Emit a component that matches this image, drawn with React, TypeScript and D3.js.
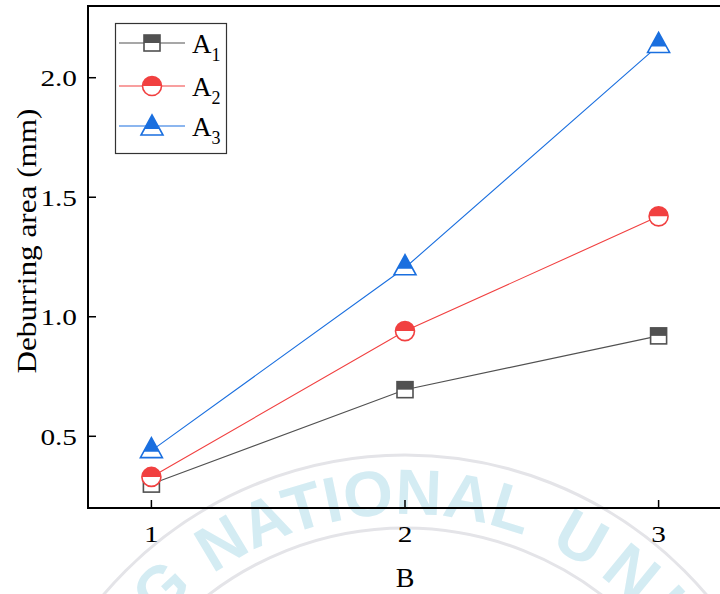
import React from "react";
import * as d3 from "d3";

const categories = [1, 2, 3];
const seriesNames = ["1", "2", "3"];
const seriesA1 = [0.3, 0.695, 0.92];
const seriesA2 = [0.33, 0.94, 1.42];
const seriesA3 = [0.44, 1.205, 2.135];
const yTicks = [0.5, 1.0, 1.5, 2.0];
const xTicks = [1, 2, 3];
const colors = ["#515151", "#F14040", "#1A6FDF"];
const shapes = ["square", "circle", "triangle"];
const wmLetters = ["U", "N", "I", "V"];
const wmWidths = [0.722, 0.722, 0.278, 0.667];

const W = 720;
const H = 594;
const left = 88;
const right = 722;
const top = 6;
const bottom = 508;

const serif = "'Liberation Serif', 'Times New Roman', serif";
const sans = "'Liberation Sans', Arial, sans-serif";
const tickFont = 24;
const stretch = 1.22;

function labelWidth(s: string) {
  let w = 0;
  for (const c of s) w += c === "." ? 0.25 : 0.5;
  return w * tickFont * stretch;
}

function Marker({ shape, color, cx, cy }: { shape: string; color: string; cx: number; cy: number }) {
  if (shape === "square") {
    return (
      <g transform={`translate(${cx},${cy})`}>
        <rect x={-8} y={-8} width={16} height={16} fill="#fff" />
        <rect x={-8} y={-8} width={16} height={8} fill={color} />
        <rect x={-8} y={-8} width={16} height={16} fill="none" stroke={color} strokeWidth={1.6} />
      </g>
    );
  }
  if (shape === "circle") {
    return (
      <g transform={`translate(${cx},${cy})`}>
        <circle r={9.5} fill="#fff" />
        <path d="M -9.5 0 A 9.5 9.5 0 0 1 9.5 0 Z" fill={color} />
        <circle r={9.5} fill="none" stroke={color} strokeWidth={1.6} />
      </g>
    );
  }
  const tri = "M 0 -13 L 11 7 L -11 7 Z";
  return (
    <g transform={`translate(${cx},${cy})`}>
      <path d={tri} fill="#fff" />
      <path d={tri} fill={color} clipPath="url(#triTop)" />
      <path d={tri} fill="none" stroke={color} strokeWidth={1.6} strokeLinejoin="miter" />
    </g>
  );
}

export default function App() {
  const x = d3.scaleLinear().domain([0.75, 3.25]).range([left, right]);
  const y = d3.scaleLinear().domain([0.2, 2.3]).range([bottom, top]);
  const all = [seriesA1, seriesA2, seriesA3];
  const line = d3
    .line<number>()
    .x((_, i) => x(categories[i]))
    .y((d) => y(d));

  // watermark geometry
  const wcx = 405;
  const wcy = 850;
  const rText = 336;
  const arcPath = `M ${wcx - rText} ${wcy} A ${rText} ${rText} 0 0 1 ${wcx + rText} ${wcy}`;
  const wmFont = 66;
  const wmGap = 10;
  const uniOffsets: number[] = [];
  let acc = 676;
  wmWidths.forEach((w) => {
    uniOffsets.push(acc);
    acc += w * wmFont + wmGap;
  });

  const legendRows = [43, 86, 126];

  return (
    <svg width={W} height={H} style={{ position: "absolute", left: 0, top: 0, background: "#fff" }}>
      <defs>
        <clipPath id="triTop" clipPathUnits="userSpaceOnUse">
          <rect x={-20} y={-20} width={40} height={21} />
        </clipPath>
        <path id="wmArc" d={arcPath} />
      </defs>
      <rect x={0} y={0} width={W} height={H} fill="#fff" />

      {/* watermark */}
      <g>
        <circle cx={wcx} cy={wcy} r={395} fill="none" stroke="#e4e4e8" strokeWidth={3} />
        <circle cx={wcx} cy={wcy} r={322} fill="none" stroke="#e4e4e8" strokeWidth={3} />
        <text fontFamily={sans} fontWeight="bold" fontSize={64} fill="#d4ecf3">
          <textPath href="#wmArc" startOffset={300} textAnchor="end">
            G
          </textPath>
        </text>
        <text fontFamily={sans} fontWeight="bold" fontSize={64} fill="#d4ecf3">
          <textPath href="#wmArc" startOffset={486} textAnchor="middle">
            NATIONAL
          </textPath>
        </text>
        {wmLetters.map((c, i) => (
          <text key={`wm${i}`} fontFamily={sans} fontWeight="bold" fontSize={wmFont} fill="#d4ecf3">
            <textPath href="#wmArc" startOffset={uniOffsets[i]} textAnchor="start">
              {c}
            </textPath>
          </text>
        ))}
      </g>

      {/* frame */}
      <line x1={left} x2={left} y1={top} y2={bottom} stroke="#000" strokeWidth={2} />
      <line x1={left - 1} x2={right} y1={bottom} y2={bottom} stroke="#000" strokeWidth={2} />
      <line x1={left - 1} x2={right} y1={top} y2={top} stroke="#000" strokeWidth={2} />

      {/* y ticks */}
      {yTicks.map((t) => {
        const s = t.toFixed(1);
        return (
          <g key={`y${t}`}>
            <line x1={left} x2={left + 8} y1={y(t)} y2={y(t)} stroke="#000" strokeWidth={1.5} />
            <text
              x={77}
              y={y(t)}
              dy="0.35em"
              textAnchor="end"
              textLength={labelWidth(s)}
              lengthAdjust="spacingAndGlyphs"
              fontFamily={serif}
              fontSize={tickFont}
              fill="#000"
            >
              {s}
            </text>
          </g>
        );
      })}

      {/* x ticks */}
      {xTicks.map((t) => {
        const s = String(t);
        return (
          <g key={`x${t}`}>
            <line x1={x(t)} x2={x(t)} y1={bottom} y2={bottom - 8} stroke="#000" strokeWidth={1.5} />
            <text
              x={x(t)}
              y={542}
              textAnchor="middle"
              textLength={labelWidth(s)}
              lengthAdjust="spacingAndGlyphs"
              fontFamily={serif}
              fontSize={tickFont}
              fill="#000"
            >
              {s}
            </text>
          </g>
        );
      })}

      {/* axis titles */}
      <text x={405} y={587} textAnchor="middle" fontFamily={serif} fontSize={28} fill="#000">
        B
      </text>
      <text
        transform={`translate(36,241) rotate(-90)`}
        textAnchor="middle"
        textLength={265}
        lengthAdjust="spacingAndGlyphs"
        fontFamily={serif}
        fontSize={28}
        fill="#000"
      >
        Deburring area (mm)
      </text>

      {/* series lines */}
      {all.map((s, i) => (
        <path key={`l${i}`} d={line(s) || ""} fill="none" stroke={colors[i]} strokeWidth={1.1} />
      ))}
      {/* markers */}
      {all.map((s, i) =>
        s.map((v, j) => (
          <Marker key={`m${i}-${j}`} shape={shapes[i]} color={colors[i]} cx={x(categories[j])} cy={y(v)} />
        ))
      )}

      {/* legend */}
      <rect x={115.5} y={23.5} width={111} height={130} fill="#fff" stroke="#333" strokeWidth={1.2} />
      {seriesNames.map((n, i) => (
        <g key={`lg${i}`}>
          <line x1={119} x2={185} y1={legendRows[i]} y2={legendRows[i]} stroke={colors[i]} strokeWidth={1.1} />
          <Marker shape={shapes[i]} color={colors[i]} cx={152} cy={legendRows[i] + (i === 2 ? 2 : 0)} />
          <text x={192} y={legendRows[i] + 10} fontFamily={serif} fontSize={27} fill="#000">
            A
            <tspan dy={8} fontSize={18}>
              {n}
            </tspan>
          </text>
        </g>
      ))}
    </svg>
  );
}
